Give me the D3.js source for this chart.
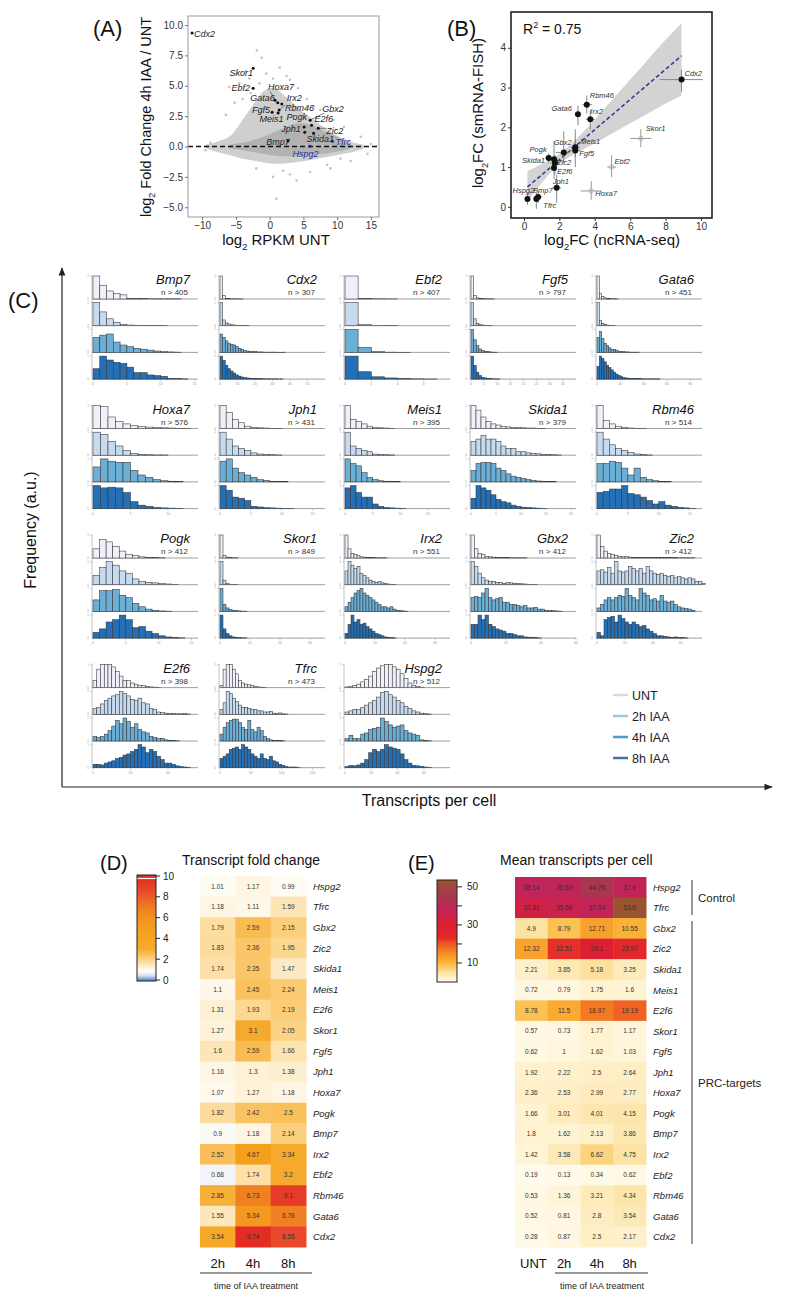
<!DOCTYPE html>
<html><head><meta charset="utf-8">
<script src="https://cdn.jsdelivr.net/npm/d3@7"></script>
<style>body{margin:0;background:#fff}svg{display:block}text{font-family:"Liberation Sans",Arial,Helvetica,sans-serif}</style>
</head><body><svg id="c" width="800" height="1301"></svg>
<script>
// ================= DATA =================
// Panel A: MA-style plot
const maGenes = ["Cdx2","Skor1","Ebf2","Hoxa7","Gata6","Irx2","Rbm46","Fgf5","Meis1","Gbx2","Pogk","E2f6","Jph1","Zic2","Skida1","Tfrc","Bmp7","Hspg2"];
const maRPKM  = [-11.5,-2.45,-2.45,0.8,1.2,1.8,1.4,0.36,1.25,6.0,5.1,6.2,5.2,7.2,6.5,9.3,2.7,6.0];
const maLFC   = [9.35,6.45,4.8,3.8,3.6,3.5,3.0,2.83,2.75,2.17,1.6,1.76,1.18,1.5,1.1,0.44,0.45,0.02];
const maControl = ["Tfrc","Hspg2"];
const cloudUpper = [[-9.5,0.1],[-8,0.35],[-6,0.8],[-5,1.4],[-4,2.2],[-3,3.0],[-2,3.8],[-1,4.5],[0,4.8],[1,4.7],[2,4.3],[3,3.8],[4,3.3],[5,2.8],[6,2.4],[7,2.0],[8,1.6],[9,1.2],[10,0.9],[11,0.6],[12,0.4],[13,0.25],[14,0.1]];
const cloudLower = [[-9.5,-0.1],[-8,-0.4],[-6,-0.7],[-4,-1.0],[-2,-1.2],[0,-1.4],[2,-1.4],[4,-1.3],[6,-1.1],[8,-0.9],[10,-0.7],[12,-0.5],[14,-0.1]];
const coreUpper = [[-6,0.1],[-4,0.3],[-2,0.6],[0,1.0],[2,1.5],[4,1.9],[6,1.8],[8,1.3],[10,0.8],[11,0.4],[12,0.2]];
const coreLower = [[-6,-0.1],[-4,-0.3],[-2,-0.5],[0,-0.7],[2,-0.8],[4,-0.8],[6,-0.7],[8,-0.6],[10,-0.4],[11,-0.3],[12,-0.1]];
const maOutliers = [[-1.9,7.9],[-1.2,7.3],[-3.5,6.2],[-3,5.6],[-0.5,6.0],[1.5,6.5],[-6,4.9],[2.5,5.8],[3,5.5],[-4.5,5.2],[4.2,4.8],[5.5,3.9],[7.5,3.0],[9.5,2.2],[11,1.6],[13.5,0.8],[15,0.2],[14.5,-0.6],[12,-1.2],[9,-1.8],[6,-2.1],[3,-2.3],[2,-2.0],[0.5,-2.5],[-2,-1.8],[1,-4.3],[4,-2.8],[-8.8,0.3],[-9.5,-0.3],[8.5,-1.5],[10.5,-1.0],[-1.5,5.2],[0.5,5.6],[-2.8,4.4],[6.5,3.3],[-5.2,3.6],[-6.5,2.6],[-4,3.9]];
const maXTicks = [-10,-5,0,5,10,15];
const maYTicks = [-5,-2.5,0,2.5,5,7.5,10];

// Panel B: validation scatter
const fishGenes = ["Cdx2","Rbm46","Gata6","Irx2","Skor1","Ebf2","Hoxa7","Gbx2","Meis1","Fgf5","Pogk","Skida1","Zic2","E2f6","Jph1","Hspg2","Bmp7","Tfrc"];
const seqFC  = [8.9,3.55,3.05,3.75,6.6,4.95,3.8,2.25,2.9,2.9,1.4,1.7,1.75,1.7,1.85,0.2,0.8,0.7];
const seqLo  = [7.65,3.3,3.0,3.5,6.0,4.7,3.2,1.8,2.65,2.6,1.2,1.5,1.5,1.55,1.6,0.1,0.55,0.6];
const seqHi  = [10.1,3.85,3.1,4.0,7.2,5.2,4.4,2.6,3.15,3.2,1.65,1.95,2.0,1.85,2.1,0.35,1.05,0.85];
const fishFC = [3.2,2.57,2.33,2.2,1.72,1.0,0.4,1.37,1.5,1.42,1.23,1.2,1.1,0.98,0.48,0.2,0.25,0.2];
const fishLo = [2.9,2.35,2.05,1.95,1.5,0.75,0.18,1.1,1.25,1.0,1.1,0.95,0.8,0.7,0.1,0.05,0.1,-0.05];
const fishHi = [3.45,2.8,2.55,2.45,1.95,1.3,0.65,1.9,1.95,1.7,1.35,1.65,1.3,1.2,0.8,0.35,0.4,0.35];
const fishExcluded = ["Skor1","Ebf2","Hoxa7"];
const bandX  = [0.2,1,2,3,4,5,6,7,8,8.9];
const bandLo = [0.15,0.6,1.08,1.36,1.6,1.85,2.1,2.35,2.6,2.8];
const bandHi = [0.9,1.08,1.33,1.72,2.2,2.7,3.2,3.7,4.2,4.62];
const fitX = [0.2,8.9];
const fitY = [0.5,3.8];
const rSquared = "0.75";

// Panel C: histograms
const histGenes = ["Bmp7","Cdx2","Ebf2","Fgf5","Gata6","Hoxa7","Jph1","Meis1","Skida1","Rbm46","Pogk","Skor1","Irx2","Gbx2","Zic2","E2f6","Tfrc","Hspg2"];
const histN = [405,307,407,797,451,576,431,395,379,514,412,849,551,412,412,398,473,512];
const histBinW = [1,1.5,1,1,2,1,1,1,1,1,1,1,1,2,2.5,2,5,3];
const histXMax = [15.5,60,8,40,90,14,17,19,21,17,16,35,35,60,75,56,170,80];
const histTicks = [[0,5,10,15],[0,10,20,30,40,50],[0,2,4,6],[0,5,10,15,20,25,30,35],[0,20,40,60,80],[0,5,10],[0,5,10,15],[0,5,10,15],[0,5,10,15,20],[0,5,10,15],[0,5,10,15],[0,10,20,30],[0,10,20,30],[0,20,40,60],[0,20,40,60],[0,20,40],[0,50,100,150],[0,20,40,60]];
const conditions = ["UNT","2h IAA","4h IAA","8h IAA"];
const histUNT = [
 [10,6,3.5,2.4,1.8,0.3,0.2,0.2,0.1,0.1,0.1,0.1,0.1],
 [10,1.5,0.3,0.2,0.1,0.1,0.1,0.05,0.05],
 [10,0.3,0.1,0.05],
 [10,1.5,0.5,0.3,0.2,0.1,0.1,0.1,0.05],
 [10,2.5,1,0.5,0.3,0.2,0.1,0.1,0.1],
 [10,9.5,5,3,2,1.2,0.9,0.6,0.4,0.3,0.2,0.1,0.1],
 [10,7,4,2.5,1,0.5,0.3,0.2,0.1,0.1],
 [10,4,3,2,1,0.5,0.3,0.2,0.1],
 [10,8,5,3,2,1.5,1,0.7,0.5,0.4,0.3,0.2,0.2,0.1,0.1],
 [10,3.5,2,1,0.5,0.2,0.1,0.1],
 [4,8,7,5,3,1.5,1,0.5,0.3,0.2,0.1],
 [10,1,0.4,0.2,0.1,0.1],
 [10,4,2,1.5,1,0.5,0.4,0.3,0.2,0.2,0.1,0.1,0.1,0.1],
 [10,4,2,1.5,0.6,0.5,0.4,0.3,0.3,0.2,0.2,0.1,0.1,0.1,0.1,0.1],
 [10,5,3,2,1.5,1.2,0.7,0.5,0.6,0.4,0.3,0.3,0.3,0.3,0.2,0.3,0.2,0.2,0.2,0.2,0.2,0.2,0.2,0.1,0.1,0.1,0.1,0.1],
 [3,8,10,10,10,9,7,5,3,3,2,1.5,1,1,0.5,0.3,0.2,0.1],
 [1,8,10,10,8,6,3,2,1.5,1.2,1,0.5,0.3,0.2,0.1],
 [0.3,0.6,1,1.5,2.5,3.5,5,7,8.5,9.5,10,10,9,8,6,4,2,1,0.5,0.2]
];
const hist2h = [
 [10,6,3,1.5,0.6,0.3,0.2,0.1,0.1,0.1,0.1],
 [10,2.5,1.2,0.8,0.4,0.3,0.2,0.15,0.1,0.1,0.1],
 [10,0.5,0.15,0.05],
 [10,3,1,0.5,0.3,0.2,0.1,0.1],
 [10,2.2,1,0.5,0.3,0.2,0.1,0.1],
 [10,9,6,4,2,0.8,0.4,0.2,0.1,0.1],
 [10,7,4,3,2,1,0.5,0.3,0.2,0.1],
 [10,4,3,2,1.5,0.5,0.3,0.2,0.1],
 [6,7,8.5,7,7,6,4,3,3,1.5,1.5,1,0.8,0.6,0.4,0.3,0.2,0.1],
 [10,7,4.5,3,2,1.2,0.5,0.3,0.1],
 [4,7.5,10,8.5,6,5,2.5,1.5,1,0.8,0.5,0.3,0.1],
 [10,2,0.5,0.2,0.1,0.1],
 [6,10,8.5,7,8,5,4,3,2,1.5,1,1.5,0.8,0.5,0.3,0.2,0.1],
 [10,8,5,3,2,1.5,1.5,1,1,0.6,1,0.8,0.6,0.5,0.4,0.3,0.2,0.1,0.1],
 [6,6.5,5.5,7.5,5,10,6,5.5,6,8,7,6,7,5,8,6,5,4.5,5,4,3.5,4,3,3.5,3,2.5,3,2.5,1.5,1.5,0.5],
 [2.5,3,4.5,6,7,8,8.5,10,9,8,6.5,6,7,5,4.5,2.5,2,1,0.7,0.5,0.3,0.3,0.2,0.2,0.3,0.1],
 [2,5,10,9,7,5.5,4,3,3,2.5,2,2,1.5,1.5,1,1,1.2,0.5,0.3,0.6,0.2,0.1],
 [1,1.5,2,2,3,4,5,6,7.5,9.5,10,8.5,7.5,6,5,3.5,2.5,1.5,1,0.5,0.3,0.1]
];
const hist4h = [
 [6.5,7.5,8,4.5,3.2,2.5,1.8,1.4,1,0.6,0.3,0.2,0.1],
 [8,6.5,5,4,3.5,3.2,2.5,1.8,1.2,0.8,0.6,0.4,0.3,0.3,0.2,0.2,0.15,0.1,0.1,0.1,0.1,0.1,0.05,0.05,0.1],
 [10,2.2,0.3,0.1,0.05],
 [10,5.5,3,1.5,0.8,0.5,0.3,0.2,0.1,0.1],
 [6.5,9,6,4,3,2,1.2,1.2,1,0.5,0.3,0.3,0.2,0.2,0.1,0.1,0.1,0.1],
 [6.5,10,9,8.5,8.5,5,3,2,1,0.5,0.3,0.1],
 [9,10,6,4,3,2,1,0.6,0.3,0.2,0.1],
 [10,8,7,4,2,1,0.5,0.3,0.2,0.1],
 [5,8,8.5,8.5,8,6,5,3.5,2.5,2,1.5,1,0.6,0.4,0.3,0.2,0.1],
 [8,8,9,8.5,6,3,6,2,1,0.5,0.2,0.1],
 [5,9,9,9.5,7,6,3.5,2,1,0.5,0.2,0.1],
 [10,3,1.5,0.8,0.5,0.3,0.2,0.1,0.1],
 [2,4,6,8,9,10,8,7,6,5,4,3,2,2,1.5,2,1,0.5,0.3,0.2,0.1],
 [6,6.5,6,8,10,6,5,5.5,6,4,4,3,3,2.5,2,2.5,1.5,1.5,1.8,1,1,0.5,0.4,0.3,0.2,0.1],
 [1.5,3,5,6,5,6,7,6.5,10,7,6,5,10,8,7,5,5.5,4.5,7,4.5,4,4.5,3,2,1.5,1.2,1,0.5],
 [2,1.5,2,3,4.5,6.5,9,7.5,10,8.5,6,7.5,5,4,3.5,2,1.5,1,1.2,0.5,0.3,0.2,0.1],
 [3,6,8,9,9.5,9.5,8,6,5,9,5,4,6,4.5,2,1,0.5,0.3,0.3,0.2,0.1],
 [1,2.5,1,1,3,3.5,5,5.5,6,10,8.5,7,6,6.5,7,4.5,3.5,3,2.5,0.5,0.3,0.1]
];
const hist8h = [
 [4.5,10,8.3,7.3,6.8,5.2,2.8,2.8,1.8,1.5,1.2,0.3,0.2,0.1],
 [10,8.2,6,4.5,3.5,2.6,1.8,1.3,0.9,0.6,0.5,0.4,0.3,0.3,0.2,0.2,0.15,0.1,0.1,0.1,0.1,0.1,0.05,0.1],
 [10,3.2,1,0.5,0.2,0.1,0.05],
 [10,6,3,1.5,0.8,0.5,0.3,0.2,0.1,0.1,0.1],
 [5.5,10,9,7.5,6,5,4,3,2.2,1.6,1.1,0.7,0.5,0.4,0.3,0.3,0.2,0.2,0.2,0.1,0.1,0.1,0.1,0.1,0.1,0.1,0.1],
 [10,9,9.3,9,7,3,1.5,1,0.5,0.3,0.2,0.1],
 [10,8,5,4.5,3.5,1,0.7,0.4,0.3,0.2,0.1,0.1],
 [9,10,7,5,5,2,1,0.5,0.3,0.2,0.1],
 [4.5,10,9,8,6,4,3,2.5,1.5,1,0.6,0.5,0.3,0.2,0.1],
 [7,7.5,8.5,8.5,10,6.5,6,5,3.5,2,3,1.5,1,0.5,0.3,0.1],
 [2.5,4,7,8,10,8,4.5,5,3,2,1,0.5,0.3,0.1],
 [10,4,2,1,0.5,0.3,0.2,0.1,0.1],
 [2,6,10,7,8,6,6.5,5,4,3,2,1.5,1,0.5,0.3,0.2,0.1],
 [6,6,10,8,10,6,5,4,3.5,3,2,2,1.5,1,1,0.5,0.4,0.3,0.2,0.1],
 [2.5,1,8,9,9.5,7,10,8.5,7,6,7,6,5,5.5,4,3,2,1,1,0.8,0.5,0.3,0.5,0.3,0.2,0.1],
 [1.5,1.5,1.2,2,2.5,3,4,4.5,5.5,6,7,8,10,9,6.5,8,7,5,3.5,2,2,1.5,0.8,0.5,0.3,0.2],
 [4,5,6,8,8.5,9,8,10,9,8,6,5,4,6,4,3.5,5,3,2.5,1.5,1,0.5,0.3,0.3,0.3,0.1],
 [0.5,1,0.8,1.2,2,3.5,6.5,8,7,8,10,9,8.5,8,6,3.5,2,1,0.8,0.5,0.3,0.2]
];

// Panels D & E: heatmaps
const hmGenes = ["Hspg2","Tfrc","Gbx2","Zic2","Skida1","Meis1","E2f6","Skor1","Fgf5","Jph1","Hoxa7","Pogk","Bmp7","Irx2","Ebf2","Rbm46","Gata6","Cdx2"];
const fcTimes = ["2h","4h","8h"];
const fc2h = [1.01,1.18,1.79,1.83,1.74,1.1,1.31,1.27,1.6,1.16,1.07,1.82,0.9,2.52,0.68,2.85,1.55,3.54];
const fc4h = [1.17,1.11,2.59,2.36,2.35,2.45,1.93,3.1,2.59,1.3,1.27,2.42,1.18,4.67,1.74,6.73,5.34,9.74];
const fc8h = [0.99,1.59,2.15,1.95,1.47,2.24,2.19,2.05,1.66,1.38,1.18,2.5,2.14,3.34,3.2,9.1,6.76,8.55];
const fcTicks = [0,2,4,6,8,10];
const meanTimes = ["UNT","2h","4h","8h"];
const meanUNT = [38.14,33.81,4.9,12.32,2.21,0.72,8.78,0.57,0.62,1.92,2.36,1.66,1.8,1.42,0.19,0.53,0.52,0.28];
const mean2h  = [38.53,35.68,8.79,22.51,3.85,0.79,11.5,0.73,1,2.22,2.53,3.01,1.62,3.58,0.13,1.36,0.81,0.87];
const mean4h  = [44.76,37.54,12.71,29.1,5.18,1.75,16.97,1.77,1.62,2.5,2.99,4.01,2.13,6.62,0.34,3.21,2.8,2.5];
const mean8h  = [37.6,53.6,10.55,23.97,3.25,1.6,19.19,1.17,1.03,2.64,2.77,4.15,3.86,4.75,0.62,4.34,3.54,2.17];
const meanTicks = [10,20,30,40,50];
const meanTickLabels = [10,30,50];
const groups = [{name:"Control", genes:["Hspg2","Tfrc"]},{name:"PRC-targets", genes:["Gbx2","Cdx2"]}];

// ================= DRAW =================
const svg = d3.select("#c");
const FS = '"Liberation Sans", Arial, Helvetica, sans-serif';
function txt(x,y,s,size,opt={}){
  const t = svg.append("text").attr("x",x).attr("y",y).attr("font-size",size).attr("fill",opt.fill||"#111").text(s);
  if(opt.anchor) t.attr("text-anchor",opt.anchor);
  if(opt.italic) t.attr("font-style","italic");
  if(opt.rotate) t.attr("transform",`rotate(-90,${x},${y})`);
  return t;
}
function logLabel(x,y,pre,rest,size,rotate){
  const t = svg.append("text").attr("x",x).attr("y",y).attr("font-size",size).attr("fill","#111").attr("text-anchor","middle");
  if(rotate) t.attr("transform",`rotate(-90,${x},${y})`);
  t.append("tspan").text(pre);
  t.append("tspan").attr("font-size",size*0.62).attr("dy",size*0.3).text("2");
  t.append("tspan").attr("dy",-size*0.3).text(rest);
  return t;
}
function styleAxis(g,col){
  g.selectAll("text").attr("font-size",10).attr("fill","#333").attr("font-family",FS);
  g.selectAll("line").attr("stroke",col);
  g.select(".domain").remove();
}

// ---------- Panel A ----------
{
  const L=188,R=379,T=16,B=217;
  const x = d3.scaleLinear().domain([-12.1,16.2]).range([L,R]);
  const y = d3.scaleLinear().domain([-5.8,10.74]).range([B,T]);
  txt(93,36,"(A)",22);
  const g = svg.append("g");
  const line = d3.line().x(d=>x(d[0])).y(d=>y(d[1])).curve(d3.curveCatmullRomClosed.alpha(0.5));
  g.append("path").attr("d",line(cloudUpper.concat(cloudLower.slice().reverse()))).attr("fill","#cfcfcf");
  g.append("path").attr("d",line(coreUpper.concat(coreLower.slice().reverse()))).attr("fill","#b2b2b2");
  g.selectAll("circle.o").data(maOutliers).enter().append("circle").attr("cx",d=>x(d[0])).attr("cy",d=>y(d[1])).attr("r",1.3).attr("fill","#c2c2c2");
  svg.append("line").attr("x1",L).attr("x2",R).attr("y1",y(0)).attr("y2",y(0)).attr("stroke","#111").attr("stroke-width",1.3).attr("stroke-dasharray","5,3");
  svg.append("rect").attr("x",L).attr("y",T).attr("width",R-L).attr("height",B-T).attr("fill","none").attr("stroke","#999");
  const ax = svg.append("g").attr("transform",`translate(0,${B})`).call(d3.axisBottom(x).tickValues(maXTicks).tickSize(3).tickPadding(2));
  styleAxis(ax,"#777");
  const ay = svg.append("g").attr("transform",`translate(${L},0)`).call(d3.axisLeft(y).tickValues(maYTicks).tickFormat(d3.format(".1f")).tickSize(3).tickPadding(2));
  styleAxis(ay,"#777");
  logLabel(151,117,"log"," Fold Change 4h IAA / UNT",14.5,true);
  logLabel(276,245,"log"," RPKM UNT",15,false);
  const off = {Cdx2:[2,4,"start"],Skor1:[0,8,"end"],Ebf2:[-3,3,"end"],Hoxa7:[-7,-10,"start",1],Gata6:[-3,-2,"end"],Irx2:[5,-3,"start"],Rbm46:[6,1,"start",1],Fgf5:[-2,1,"end"],Meis1:[-6.6,9,"middle"],Gbx2:[12,-8,"start",1],Pogk:[3,-7,"end"],E2f6:[3,-3,"start"],Jph1:[-4,0,"end"],Zic2:[8,6,"start",1],Skida1:[-7,9,"start"],Tfrc:[3,4,"start"],Bmp7:[2,4,"end"],Hspg2:[-4.7,10.8,"middle"]};
  maGenes.forEach((gname,i)=>{
    const px=x(maRPKM[i]), py=y(maLFC[i]);
    const o=off[gname];
    const ctrl = maControl.includes(gname);
    if(o[3]) svg.append("line").attr("x1",px).attr("y1",py).attr("x2",px+o[0]+(o[1]<0?2:0)).attr("y2",py+o[1]+(o[1]<0?1:-6)).attr("stroke","#333").attr("stroke-width",0.6);
    svg.append("circle").attr("cx",px).attr("cy",py).attr("r",1.5).attr("fill",ctrl?"#22228a":"#111");
    txt(px+o[0],py+o[1],gname,9,{italic:true,anchor:o[2],fill:ctrl?"#2a2a9a":"#222"});
  });
}

// ---------- Panel B ----------
{
  const L=511,R=712,T=12,B=218;
  const x = d3.scaleLinear().domain([-0.73,10.62]).range([L,R]);
  const y = d3.scaleLinear().domain([-0.28,4.9]).range([B,T]);
  txt(447,36,"(B)",22);
  const area = d3.area().x((d,i)=>x(bandX[i])).y0((d,i)=>y(bandLo[i])).y1((d,i)=>y(bandHi[i])).curve(d3.curveMonotoneX);
  svg.append("path").attr("d",area(bandX)).attr("fill","#d3d3d3");
  svg.append("line").attr("x1",x(fitX[0])).attr("y1",y(fitY[0])).attr("x2",x(fitX[1])).attr("y2",y(fitY[1])).attr("stroke","#3b3b8f").attr("stroke-width",1.6).attr("stroke-dasharray","4,2.5");
  const off = {Cdx2:[3,-4,"start"],Rbm46:[3,-7,"start"],Gata6:[-6,-3,"end"],Irx2:[0,-5,"start"],Skor1:[5,-7,"start"],Ebf2:[3,-3,"start"],Hoxa7:[4,5,"start"],Gbx2:[-10,-7,"start"],Meis1:[5,-3,"start"],Fgf5:[4,6,"start"],Pogk:[-2,-6,"end"],Skida1:[-9,4,"end"],Zic2:[2,2,"start"],E2f6:[3,6,"start"],Jph1:[-4,-4,"start"],Hspg2:[-15,-6,"start"],Bmp7:[-5,-4,"start"],Tfrc:[7,9,"start"]};
  fishGenes.forEach((g,i)=>{
    const ex = fishExcluded.includes(g);
    const col = ex?"#9a9a9a":"#888";
    svg.append("line").attr("x1",x(seqLo[i])).attr("x2",x(seqHi[i])).attr("y1",y(fishFC[i])).attr("y2",y(fishFC[i])).attr("stroke",col).attr("stroke-width",1);
    svg.append("line").attr("x1",x(seqFC[i])).attr("x2",x(seqFC[i])).attr("y1",y(fishLo[i])).attr("y2",y(fishHi[i])).attr("stroke",col).attr("stroke-width",1);
    if(ex) svg.append("circle").attr("cx",x(seqFC[i])).attr("cy",y(fishFC[i])).attr("r",2.2).attr("fill","none").attr("stroke","#aaa").attr("stroke-width",0.8);
  });
  fishGenes.forEach((g,i)=>{
    const ex = fishExcluded.includes(g);
    if(!ex) svg.append("circle").attr("cx",x(seqFC[i])).attr("cy",y(fishFC[i])).attr("r",3).attr("fill","#111");
    const o=off[g];
    txt(x(seqFC[i])+o[0],y(fishFC[i])+o[1],g,7.5,{italic:true,anchor:o[2],fill:"#333"});
  });
  svg.append("rect").attr("x",L).attr("y",T).attr("width",R-L).attr("height",B-T).attr("fill","none").attr("stroke","#111").attr("stroke-width",1.5);
  const ax = svg.append("g").attr("transform",`translate(0,${B})`).call(d3.axisBottom(x).tickValues([0,2,4,6,8,10]).tickFormat(d3.format("d")).tickSize(3).tickPadding(2));
  styleAxis(ax,"#333");
  const ay = svg.append("g").attr("transform",`translate(${L},0)`).call(d3.axisLeft(y).tickValues([0,1,2,3,4]).tickFormat(d3.format("d")).tickSize(3).tickPadding(2));
  styleAxis(ay,"#333");
  const r2 = svg.append("text").attr("x",523).attr("y",34).attr("font-size",14).attr("fill","#111");
  r2.append("tspan").text("R");
  r2.append("tspan").attr("font-size",9).attr("dy",-6).text("2");
  r2.append("tspan").attr("dy",6).text(" = "+rSquared);
  logLabel(483,113,"log","FC (smRNA-FISH)",15,true);
  logLabel(612,245,"log","FC (ncRNA-seq)",15,false);
}

// ---------- Panel C ----------
{
  txt(8,308,"(C)",22);
  const defs = svg.append("defs");
  defs.append("marker").attr("id","arr").attr("viewBox","0 0 10 10").attr("refX",9).attr("refY",5).attr("markerWidth",7).attr("markerHeight",7).attr("orient","auto")
    .append("path").attr("d","M0,1 L10,5 L0,9 Z").attr("fill","#222");
  svg.append("line").attr("x1",62).attr("y1",787).attr("x2",62).attr("y2",268).attr("stroke","#222").attr("stroke-width",1.2).attr("marker-end","url(#arr)");
  svg.append("line").attr("x1",62).attr("y1",787).attr("x2",772).attr("y2",787).attr("stroke","#222").attr("stroke-width",1.2).attr("marker-end","url(#arr)");
  txt(36,530,"Frequency (a.u.)",16,{anchor:"middle",rotate:true});
  txt(429,806,"Transcripts per cell",16,{anchor:"middle"});
  const fills = ["#eff0fa","#c6dbef","#6baed6","#2370b6"];
  const allHist = [histUNT,hist2h,hist4h,hist8h];
  const colLeft=[92,219,344,470,596], rowTop=[276,405.5,535,664.6];
  const W=106, step=26.7, H=23;
  histGenes.forEach((gname,i)=>{
    const r=Math.floor(i/5), c=i%5;
    const x0=colLeft[c], y0=rowTop[r];
    const x = d3.scaleLinear().domain([0,histXMax[i]]).range([x0+1,x0+W]);
    const lastBase = y0+H+3*step;
    svg.append("line").attr("x1",x0).attr("x2",x0).attr("y1",y0-1).attr("y2",lastBase).attr("stroke","#aaa").attr("stroke-width",0.7);
    for(let k=0;k<4;k++){
      const base = y0+H+k*step;
      const ys = d3.scaleLinear().domain([0,10]).range([base,base-H]);
      svg.append("line").attr("x1",x0).attr("x2",x0+W).attr("y1",base).attr("y2",base).attr("stroke","#888").attr("stroke-width",0.8);
      svg.append("line").attr("x1",x0-2).attr("x2",x0).attr("y1",ys(10)).attr("y2",ys(10)).attr("stroke","#aaa").attr("stroke-width",0.5);
      txt(x0-3,ys(10)+1,"1",3,{anchor:"end",fill:"#999"});
      txt(x0-3,base+1,"0",3,{anchor:"end",fill:"#999"});
      const vals = allHist[k][i];
      const bw = histBinW[i];
      svg.append("g").selectAll("rect").data(vals).enter().append("rect")
        .attr("x",(d,j)=>x(j*bw)).attr("width",(d,j)=>x((j+1)*bw)-x(j*bw))
        .attr("y",d=>ys(d)).attr("height",d=>base-ys(d))
        .attr("fill",fills[k]).attr("stroke","#333").attr("stroke-width",0.55);
    }
    histTicks[i].forEach(t=>{
      svg.append("line").attr("x1",x(t)).attr("x2",x(t)).attr("y1",lastBase).attr("y2",lastBase+2).attr("stroke","#999").attr("stroke-width",0.5);
      txt(x(t),lastBase+6,String(t),3.5,{anchor:"middle",fill:"#999"});
    });
    txt(x0+98,y0+8,gname,13,{italic:true,anchor:"end"});
    txt(x0+96,y0+19,"n > "+histN[i],8,{anchor:"end",fill:"#333"});
  });
  const legCols = ["#d9d9d9","#9ecae1","#4a9bd1","#4470a8"];
  const legY = [695,716,737,758];
  conditions.forEach((cnd,k)=>{
    svg.append("line").attr("x1",613).attr("x2",628).attr("y1",legY[k]).attr("y2",legY[k]).attr("stroke",legCols[k]).attr("stroke-width",2.5);
    txt(632,legY[k]+4.5,cnd,12.5,{fill:"#222"});
  });
}

// ---------- Panel D ----------
{
  txt(100,870,"(D)",20);
  txt(182,865,"Transcript fold change",14);
  const color = d3.scaleLinear().domain([0,0.6,1,1.5,2,2.5,3,4.5,6,7,8.5,10])
    .range(['#4b7fbf','#eef2f9','#fffcf4','#fde9c2','#fcd58a','#fac05a','#f6ab2e','#f5a21d','#f39120','#ef7b22','#e9492a','#e22722']).clamp(true);
  const cols = [fc2h,fc4h,fc8h];
  const x = d3.scaleBand().domain(fcTimes).range([200,306]);
  const y = d3.scaleBand().domain(hmGenes).range([876,1247]);
  hmGenes.forEach((g,i)=>{
    fcTimes.forEach((t,j)=>{
      const v = cols[j][i];
      svg.append("rect").attr("x",x(t)).attr("y",y(g)).attr("width",x.bandwidth()+0.5).attr("height",y.bandwidth()+0.5).attr("fill",color(v));
      txt(x(t)+x.bandwidth()/2,y(g)+y.bandwidth()/2+2.3,String(v),6.5,{anchor:"middle",fill:"#333"});
    });
    txt(313,y(g)+y.bandwidth()/2+3.5,g,9.5,{italic:true,fill:"#222"});
  });
  fcTimes.forEach(t=>txt(x(t)+x.bandwidth()/2,1268,t,13,{anchor:"middle"}));
  svg.append("line").attr("x1",200).attr("x2",312).attr("y1",1273).attr("y2",1273).attr("stroke","#333").attr("stroke-width",1);
  txt(256,1289,"time of IAA treatment",9,{anchor:"middle",fill:"#222"});
  const cy = d3.scaleLinear().domain([0,10]).range([980,876]);
  const grad = svg.append("defs").append("linearGradient").attr("id","gD").attr("x1",0).attr("y1",1).attr("x2",0).attr("y2",0);
  d3.range(0,10.01,0.25).forEach(v=>grad.append("stop").attr("offset",v/10).attr("stop-color",color(v)));
  svg.append("rect").attr("x",137).attr("y",875).attr("width",19).attr("height",106).attr("fill","url(#gD)").attr("stroke","#222").attr("stroke-width",1);
  svg.append("line").attr("x1",137.5).attr("x2",155.5).attr("y1",878.5).attr("y2",878.5).attr("stroke","#fff").attr("stroke-width",1.2);
  fcTicks.forEach(v=>{
    svg.append("line").attr("x1",156).attr("x2",160).attr("y1",cy(v)).attr("y2",cy(v)).attr("stroke","#222");
    txt(163,cy(v)+3.5,String(v),10,{fill:"#222"});
  });
}

// ---------- Panel E ----------
{
  txt(408,870,"(E)",20);
  txt(500,865,"Mean transcripts per cell",14);
  const color = d3.scaleLinear().domain([0,2,5,10,15,20,23,30,38,45,53.6])
    .range(['#fffbec','#fef1cd','#fde2a2','#fbb63a','#f68d20','#ee5a25','#e4282a','#dc1f32','#c1245a','#a9364f','#98532f']).clamp(true);
  const cols = [meanUNT,mean2h,mean4h,mean8h];
  const x = d3.scaleBand().domain(meanTimes).range([515,646]);
  const y = d3.scaleBand().domain(hmGenes).range([877,1247]);
  hmGenes.forEach((g,i)=>{
    meanTimes.forEach((t,j)=>{
      const v = cols[j][i];
      svg.append("rect").attr("x",x(t)).attr("y",y(g)).attr("width",x.bandwidth()+0.5).attr("height",y.bandwidth()+0.5).attr("fill",color(v));
      txt(x(t)+x.bandwidth()/2,y(g)+y.bandwidth()/2+2.3,String(v),6.5,{anchor:"middle",fill:"#333"});
    });
    txt(653,y(g)+y.bandwidth()/2+3.5,g,9.5,{italic:true,fill:"#222"});
  });
  meanTimes.forEach(t=>txt(x(t)+x.bandwidth()/2+(t==="UNT"?2:0),1268,t,13,{anchor:"middle"}));
  svg.append("line").attr("x1",555).attr("x2",648).attr("y1",1273).attr("y2",1273).attr("stroke","#333").attr("stroke-width",1);
  txt(602,1289,"time of IAA treatment",9,{anchor:"middle",fill:"#222"});
  groups.forEach(gr=>{
    const y1 = y(gr.genes[0])+3, y2 = y(gr.genes[gr.genes.length-1])+y.bandwidth()-3;
    svg.append("line").attr("x1",692).attr("x2",692).attr("y1",y1).attr("y2",y2).attr("stroke","#777").attr("stroke-width",1.5);
    txt(698,(y1+y2)/2+4,gr.name,11.5,{fill:"#222"});
  });
  const cy = d3.scaleLinear().domain([0,53.6]).range([982,880]);
  const grad = svg.append("defs").append("linearGradient").attr("id","gE").attr("x1",0).attr("y1",1).attr("x2",0).attr("y2",0);
  d3.range(0,53.7,1).forEach(v=>grad.append("stop").attr("offset",v/53.6).attr("stop-color",color(v)));
  svg.append("rect").attr("x",437).attr("y",880).attr("width",20).attr("height",102).attr("fill","url(#gE)").attr("stroke","#222").attr("stroke-width",1);
  meanTicks.forEach(v=>{
    svg.append("line").attr("x1",457).attr("x2",462).attr("y1",cy(v)).attr("y2",cy(v)).attr("stroke","#222");
  });
  meanTickLabels.forEach(v=>txt(467,cy(v)+3.5,String(v),10,{fill:"#222"}));
}
</script></body></html>
